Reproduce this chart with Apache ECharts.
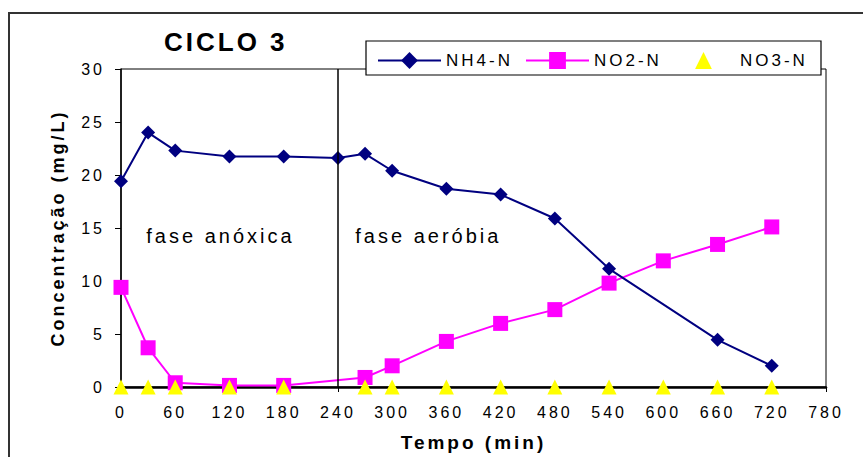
<!DOCTYPE html>
<html>
<head>
<meta charset="utf-8">
<script src="https://cdn.jsdelivr.net/npm/echarts@6/dist/echarts.min.js"></script>
<style>
  html, body { margin: 0; padding: 0; background: #fff; }
  #chart { width: 863px; height: 457px; }
  #chart svg text { letter-spacing: 3px; }
</style>
</head>
<body>
<div id="chart"></div>
<script>
// ---- data ----
const titleText = 'CICLO 3';
const xTicks = [0, 60, 120, 180, 240, 300, 360, 420, 480, 540, 600, 660, 720, 780];
const yTicks = [0, 5, 10, 15, 20, 25, 30];
const nh4Time = [0, 30, 60, 120, 180, 240, 270, 300, 360, 420, 480, 540, 660, 720];
const nh4Vals = [19.4, 24.0, 22.3, 21.75, 21.75, 21.6, 22.0, 20.4, 18.7, 18.15, 15.9, 11.15, 4.45, 2.0];
const no2Time = [0, 30, 60, 120, 180, 270, 300, 360, 420, 480, 540, 600, 660, 720];
const no2Vals = [9.4, 3.7, 0.4, 0.15, 0.15, 0.9, 2.0, 4.3, 6.0, 7.3, 9.8, 11.9, 13.45, 15.1];
const no3Time = [0, 30, 60, 120, 180, 270, 300, 360, 420, 480, 540, 600, 660, 720];
const no3Vals = [0, 0, 0, 0, 0, 0, 0, 0, 0, 0, 0, 0, 0, 0];
const phaseBoundary = 240;
const phaseLabels = [
  { text: 'fase anóxica', x: 110, y: 14.2 },
  { text: 'fase aeróbia', x: 340, y: 14.2 }
];

const pair = (xs, ys) => xs.map((x, i) => [x, ys[i]]);
const FONT = 'Liberation Sans, Arial, sans-serif';

const chart = echarts.init(document.getElementById('chart'), null, { renderer: 'svg' });

const legendCommon = {
  top: 47, itemWidth: 63, itemHeight: 21, itemGap: 15,
  textStyle: { fontFamily: FONT, fontSize: 17, color: '#000', padding: [0, 0, 0, 0] },
  selectedMode: false
};

chart.setOption({
  animation: false,
  backgroundColor: '#fff',
  title: {
    text: titleText, left: 159, top: 24,
    textStyle: { fontFamily: FONT, fontSize: 26, fontWeight: 'bold', color: '#000' }
  },
  graphic: [
    { type: 'rect', silent: true, z: -10, shape: { x: 9, y: 13, width: 900, height: 500 },
      style: { fill: 'none', stroke: '#333', lineWidth: 2 } },
    { type: 'rect', silent: true, z: 5, shape: { x: 366, y: 41, width: 455, height: 34 },
      style: { fill: '#fff', stroke: '#000', lineWidth: 1.2 } }
  ],
  legend: [
    Object.assign({}, legendCommon, { left: 372, data: ['NH4-N'], z: 10 }),
    Object.assign({}, legendCommon, { left: 520, data: ['NO2-N'], z: 10 }),
    Object.assign({}, legendCommon, { left: 667, data: ['NO3-N'], z: 10 })
  ],
  grid: { left: 121, top: 69, right: 37, bottom: 68, show: true, borderColor: '#000', borderWidth: 1, backgroundColor: 'transparent' },
  xAxis: {
    type: 'value', min: xTicks[0], max: xTicks[xTicks.length - 1], interval: 60,
    name: 'Tempo (min)', nameLocation: 'middle', nameGap: 46,
    nameTextStyle: { fontFamily: FONT, fontSize: 19, fontWeight: 'bold', color: '#000' },
    axisLine: { show: true, onZero: false, lineStyle: { color: '#000', width: 2.5 } },
    axisTick: { show: true, inside: false, length: 5, lineStyle: { color: '#000' } },
    axisLabel: { fontFamily: FONT, fontSize: 16, color: '#000', margin: 17 },
    splitLine: { show: false }
  },
  yAxis: {
    type: 'value', min: yTicks[0], max: yTicks[yTicks.length - 1], interval: 5,
    name: 'Concentração (mg/L)', nameLocation: 'middle', nameGap: 54, nameRotate: 90,
    nameTextStyle: { fontFamily: FONT, fontSize: 18, fontWeight: 'bold', color: '#000' },
    axisLine: { show: true, lineStyle: { color: '#000', width: 1.5 } },
    axisTick: { show: true, inside: false, length: 6, lineStyle: { color: '#000' } },
    axisLabel: { fontFamily: FONT, fontSize: 16, color: '#000', margin: 16 },
    splitLine: { show: false }
  },
  series: [
    {
      name: 'NH4-N', type: 'line', data: pair(nh4Time, nh4Vals), clip: false,
      symbol: 'diamond', symbolSize: 14,
      lineStyle: { color: '#000080', width: 2 },
      itemStyle: { color: '#000080' },
      z: 3,
      markLine: {
        silent: true, symbol: ['none', 'none'], label: { show: false },
        lineStyle: { color: '#000', width: 1.5, type: 'solid' },
        data: [{ xAxis: phaseBoundary }]
      }
    },
    {
      name: 'NO2-N', type: 'line', data: pair(no2Time, no2Vals), clip: false,
      symbol: 'rect', symbolSize: 15,
      lineStyle: { color: '#FF00FF', width: 2 },
      itemStyle: { color: '#FF00FF' },
      z: 2
    },
    {
      name: 'NO3-N', type: 'line', data: pair(no3Time, no3Vals), clip: false,
      symbol: 'triangle', symbolSize: 15,
      lineStyle: { color: '#FFFF00', width: 0, opacity: 0 },
      itemStyle: { color: '#FFFF00' },
      z: 4,
      markPoint: {
        silent: true, symbol: 'circle', symbolSize: 0,
        label: { show: true, position: 'inside', fontFamily: FONT, fontSize: 20, color: '#000',
                 formatter: p => p.name },
        data: phaseLabels.map(p => ({ name: p.text, coord: [p.x, p.y] }))
      }
    }
  ]
});
</script>
</body>
</html>
